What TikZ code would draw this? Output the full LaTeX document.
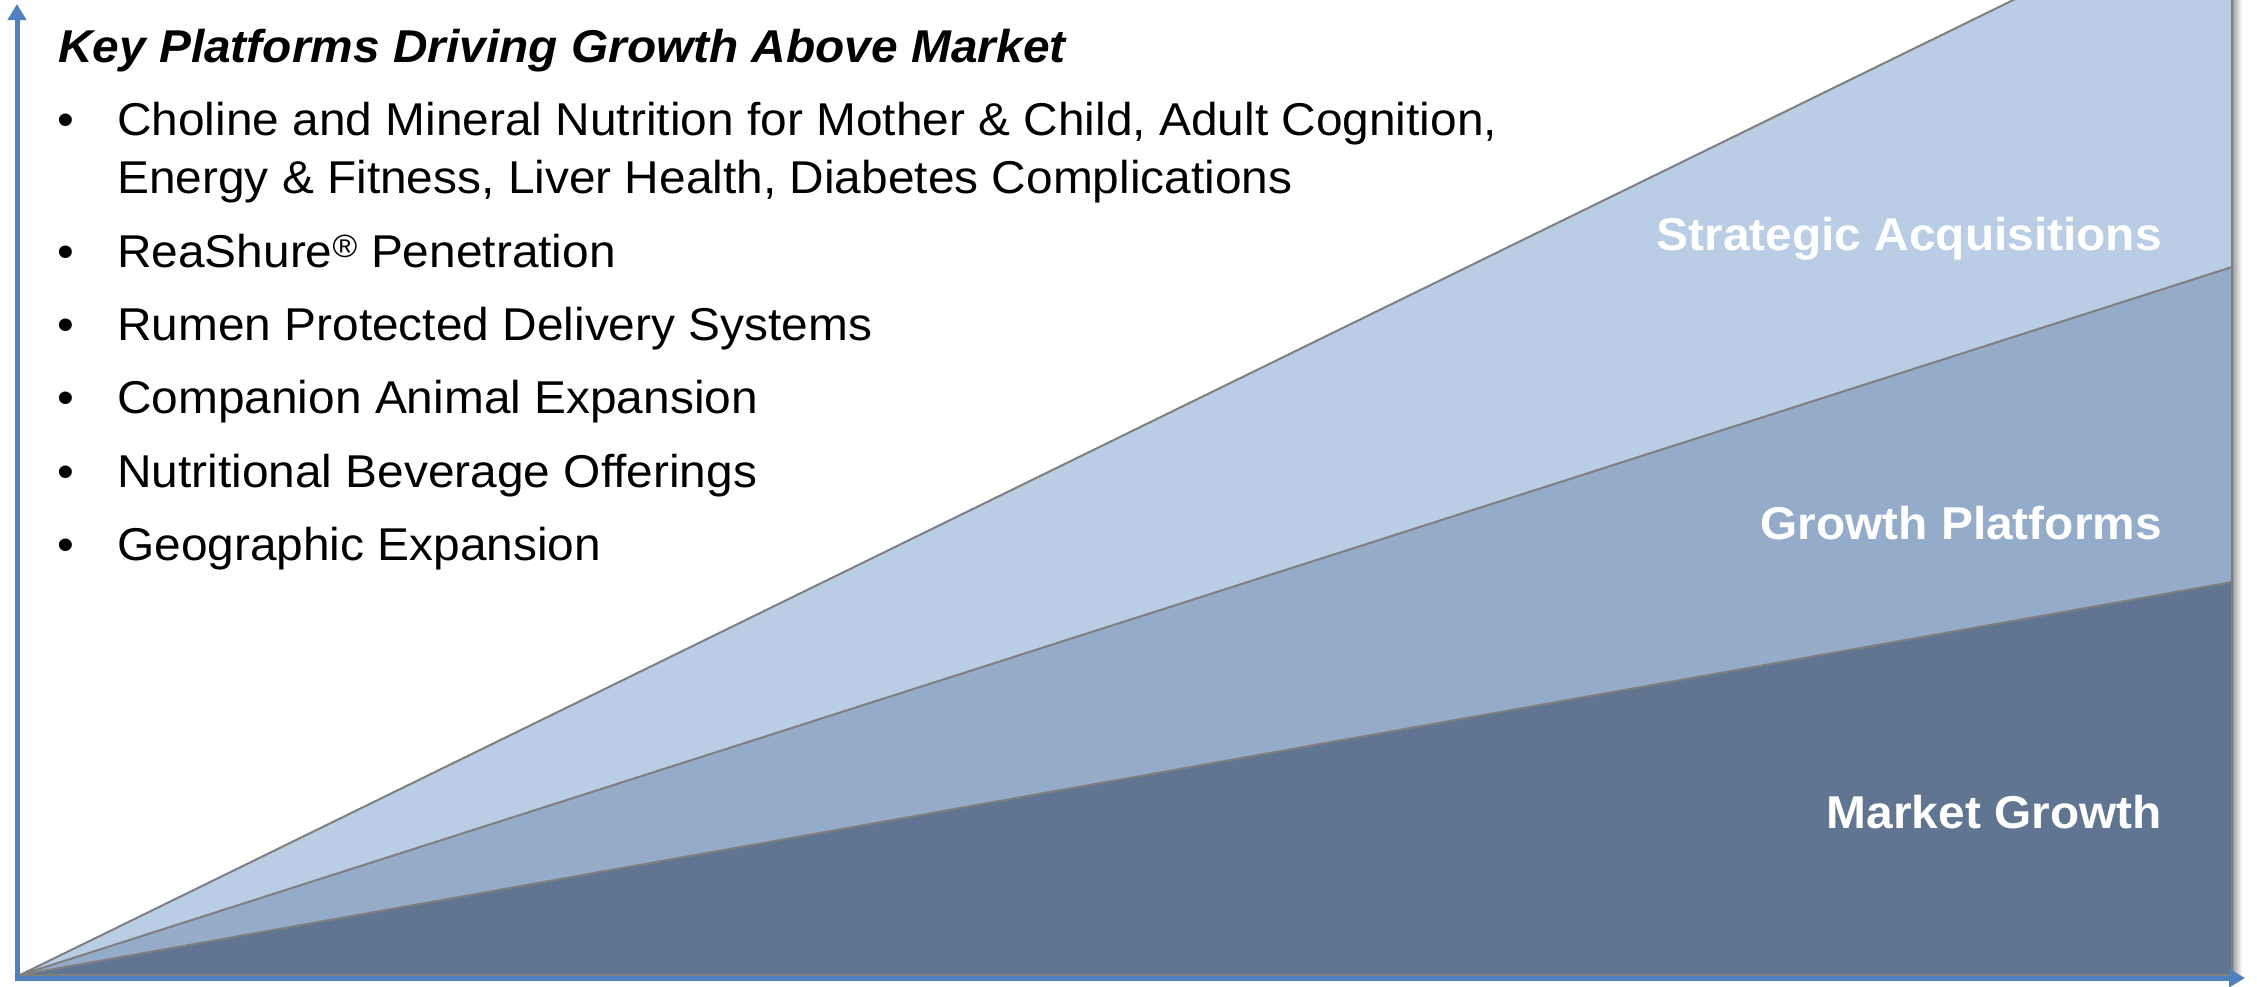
\documentclass[tikz,border=0pt]{standalone}
\usepackage{fontspec}
\setmainfont[FakeStretch=1.04]{Liberation Sans}
\usetikzlibrary{arrows.meta}
\definecolor{lightband}{HTML}{B9CDE5}
\definecolor{midband}{HTML}{94ABCA}
\definecolor{darkband}{HTML}{5F7592}
\definecolor{axisblue}{HTML}{4F81BD}
\definecolor{edgegray}{HTML}{7F7F7F}
\tikzset{
  band/.style={draw=edgegray, line width=2pt, line join=miter},
  axisline/.style={draw=axisblue, line width=5pt, -{Triangle[length=16pt,width=18pt]}},
  bodytext/.style={anchor=base west, inner sep=0pt, font=\fontsize{46}{52}\selectfont},
  bullet/.style={anchor=base west, inner sep=0pt, font=\fontsize{46}{52}\selectfont},
  bandlabel/.style={anchor=base east, inner sep=0pt, text=white, font=\fontsize{46}{52}\selectfont\bfseries},
}
\begin{document}
\begin{tikzpicture}[x=1pt,y=-1pt]
\useasboundingbox (0,0) rectangle (2257,986);
\coordinate (O) at (20,975);
\coordinate (Btop) at (2232,-107);
\coordinate (Bmid) at (2232,267);
\coordinate (Blow) at (2232,582);
\coordinate (Bbase) at (2232,975);
\begin{scope}
\clip (0,0) rectangle (2257,986);
\shade[left color=black!40, right color=white] (2232,0) rectangle (2242,980);
\fill[band, fill=lightband] (O) -- (Btop) -- (Bbase) -- cycle;
\fill[band, fill=midband] (O) -- (Bmid) -- (Bbase) -- cycle;
\fill[band, fill=darkband] (O) -- (Blow) -- (Bbase) -- cycle;
\end{scope}
% axes
\coordinate (Ystart) at (17,980);
\coordinate (Yend) at (17,4);
\coordinate (Xstart) at (15,978);
\coordinate (Xend) at (2245,978);
\draw[axisline] (Ystart) -- (Yend);
\draw[axisline] (Xstart) -- (Xend);
% text
\node[anchor=base west, inner sep=0pt, font=\fontsize{46}{52}\selectfont\bfseries\itshape] (title) at (58,62) {Key Platforms Driving Growth Above Market};
\node[bullet] (b1) at (57,135) {•};
\node[bodytext] (t1) at (117,135) {Choline and Mineral Nutrition for Mother \& Child, Adult Cognition,};
\node[bodytext] (t1b) at (117,193) {Energy \& Fitness, Liver Health, Diabetes Complications};
\node[bullet] (b2) at (57,267) {•};
\node[bodytext] (t2) at (117,267) {ReaShure\textsuperscript{®} Penetration};
\node[bullet] (b3) at (57,340) {•};
\node[bodytext] (t3) at (117,340) {Rumen Protected Delivery Systems};
\node[bullet] (b4) at (57,413) {•};
\node[bodytext] (t4) at (117,413) {Companion Animal Expansion};
\node[bullet] (b5) at (57,487) {•};
\node[bodytext] (t5) at (117,487) {Nutritional Beverage Offerings};
\node[bullet] (b6) at (57,560) {•};
\node[bodytext] (t6) at (117,560) {Geographic Expansion};
\node[bandlabel] (l1) at (2162,250) {Strategic Acquisitions};
\node[bandlabel] (l2) at (2162,539) {Growth Platforms};
\node[bandlabel] (l3) at (2162,828) {Market Growth};
\end{tikzpicture}
\end{document}
